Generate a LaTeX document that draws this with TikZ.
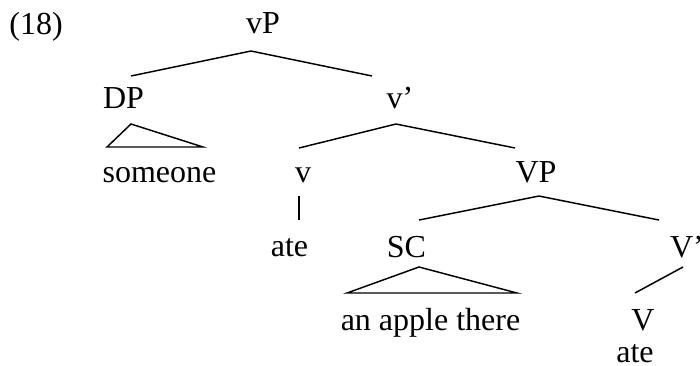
\documentclass[tikz,border=0pt]{standalone}
\usepackage{fontspec}
\setmainfont{Liberation Serif}
\usepackage{tikz}
\usetikzlibrary{calc}

\begin{document}
\begin{tikzpicture}[x=0.75pt,y=-0.75pt]
    \useasboundingbox (0,0) rectangle (700,365);
    \tikzstyle{every node}=[inner sep=0pt,anchor=base,font=\fontsize{24}{28}\selectfont]
    \tikzstyle{branch}=[draw=black,line width=1.1pt]

   % labels
   \node (ex) at (36,34) {(18)};
   \node (vP) at (263,33) {vP};
   \node (DP) at (123.5,108) {DP};
   \node (vbar) at (400,108) {v’};
   \node (someone) at (159.5,182) {someone};
   \node (v) at (303,182) {v};
   \node (VP) at (536,182) {VP};
   \node (ate1) at (289.5,256) {ate};
   \node (SC) at (406.5,257) {SC};
   \node (Vbar) at (687,257) {V’};
   \node (apple) at (430.5,330) {an apple there};
   \node (V) at (643,330) {V};
   \node (ate2) at (635,362) {ate};

   % branches
   \draw[branch] ($(DP.base)+(7.5,-32)$) -- ($(vP.base)+(-12,18)$) -- ($(vbar.base)+(-28,-32)$);
   \draw[branch] ($(DP.base)+(7.5,16)$) -- ($(someone.base)+(-52.5,-35)$)
     -- ($(someone.base)+(43.5,-35)$) -- cycle;
   \draw[branch] ($(v.base)+(-4,-34)$) -- ($(vbar.base)+(-4,16)$) -- ($(VP.base)+(-21,-34)$);
   \draw[branch] ($(v.base)+(-4,14)$) -- ($(ate1.base)+(9.5,-36)$);
   \draw[branch] ($(SC.base)+(12.5,-37)$) -- ($(VP.base)+(3,14)$) -- ($(Vbar.base)+(-28,-37)$);
   \draw[branch] ($(SC.base)+(12.5,10)$) -- ($(apple.base)+(-83.5,-37)$)
     -- ($(apple.base)+(86.5,-37)$) -- cycle;
   \draw[branch] ($(Vbar.base)+(-4,10)$) -- ($(V.base)+(-8,-37)$);

\end{tikzpicture}
\end{document}
